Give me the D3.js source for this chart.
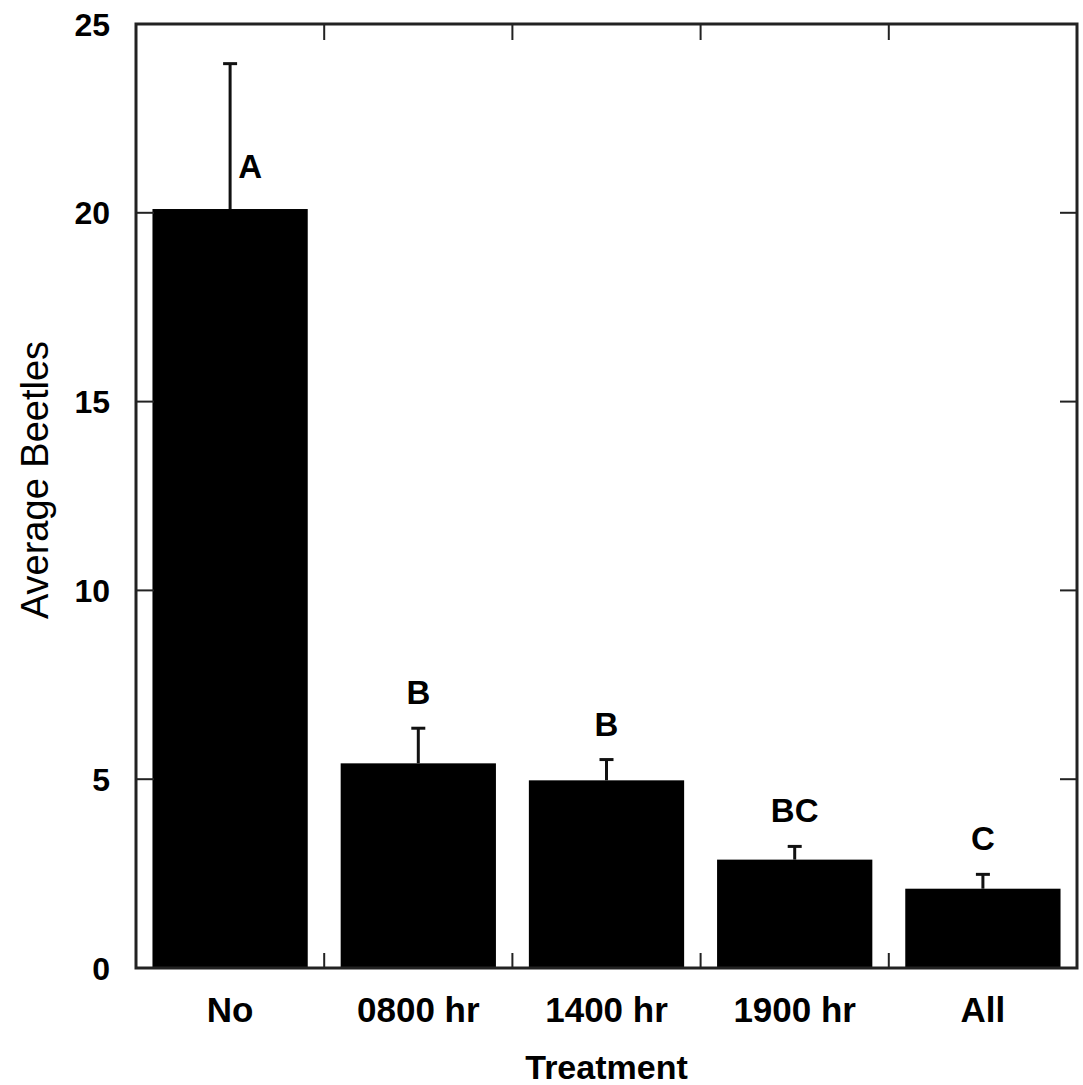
<!DOCTYPE html>
<html>
<head>
<meta charset="utf-8">
<script src="https://cdn.jsdelivr.net/npm/d3@7"></script>
<style>
    body { margin: 0; background: #fff; }
    text { font-family: "Liberation Sans", Arial, sans-serif; }
</style>
</head>
<body>
<div id="chart"></div>
<script>
// Chart data
const treatments = ["No", "0800 hr", "1400 hr", "1900 hr", "All"];
const meanBeetles = [20.1, 5.42, 4.97, 2.87, 2.1];
const errBeetles = [3.85, 0.93, 0.55, 0.35, 0.38];
const groupLetters = ["A", "B", "B", "BC", "C"];
const yTicks = [0, 5, 10, 15, 20, 25];

const margin = { top: 24, right: 6, bottom: 117, left: 136 },
    width = 1083 - margin.left - margin.right,
    height = 1085 - margin.top - margin.bottom;

const svg = d3.select("#chart")
    .append("svg")
    .attr("width", width + margin.left + margin.right)
    .attr("height", height + margin.top + margin.bottom)
    .append("g")
    .attr("transform", "translate(" + margin.left + "," + margin.top + ")");

const data = treatments.map((t, i) => ({ t, v: meanBeetles[i], e: errBeetles[i], g: groupLetters[i] }));

const x = d3.scaleBand()
    .domain(treatments)
    .range([0, width])
    .paddingInner(0.175)
    .paddingOuter(0.0875);

const y = d3.scaleLinear()
    .domain([0, 25])
    .range([height, 0]);

// category boundaries (for the small ticks on top/bottom)
const step = x.step();
const bounds = treatments.slice(1).map(t => x(t) - step * x.paddingInner() / 2);

// Bars
svg.selectAll("rect.bar")
    .data(data)
    .enter()
    .append("rect")
    .attr("class", "bar")
    .attr("x", d => x(d.t))
    .attr("y", d => y(d.v))
    .attr("width", x.bandwidth())
    .attr("height", d => height - y(d.v))
    .attr("fill", "#000");

// Error bars (upper only)
const errG = svg.append("g").attr("stroke", "#111").attr("stroke-width", 3);
errG.selectAll("line.stem")
    .data(data)
    .enter()
    .append("line")
    .attr("x1", d => x(d.t) + x.bandwidth() / 2)
    .attr("x2", d => x(d.t) + x.bandwidth() / 2)
    .attr("y1", d => y(d.v))
    .attr("y2", d => y(d.v + d.e));
errG.selectAll("line.cap")
    .data(data)
    .enter()
    .append("line")
    .attr("x1", d => x(d.t) + x.bandwidth() / 2 - 7)
    .attr("x2", d => x(d.t) + x.bandwidth() / 2 + 7)
    .attr("y1", d => y(d.v + d.e))
    .attr("y2", d => y(d.v + d.e));

// Significance letters
svg.selectAll("text.grp")
    .data(data)
    .enter()
    .append("text")
    .attr("class", "grp")
    .attr("x", (d, i) => x(d.t) + x.bandwidth() / 2 + (i === 0 ? 20 : 0))
    .attr("y", (d, i) => i === 0 ? y(d.v) - 31 : y(d.v + d.e) - 24)
    .attr("text-anchor", "middle")
    .attr("font-size", 33)
    .attr("font-weight", "bold")
    .text(d => d.g);

// Frame
const frame = svg.append("g").attr("stroke", "#222").attr("fill", "none");
frame.append("rect")
    .attr("x", 0).attr("y", 0)
    .attr("width", width).attr("height", height)
    .attr("stroke-width", 3);

// Y ticks inward on both sides
frame.selectAll("line.yl")
    .data(yTicks.slice(1, -1))
    .enter()
    .append("line")
    .attr("x1", 0).attr("x2", 18)
    .attr("y1", d => y(d)).attr("y2", d => y(d))
    .attr("stroke-width", 2);
frame.selectAll("line.yr")
    .data(yTicks.slice(1, -1))
    .enter()
    .append("line")
    .attr("x1", width - 17).attr("x2", width)
    .attr("y1", d => y(d)).attr("y2", d => y(d))
    .attr("stroke-width", 2);

// X boundary ticks inward top and bottom
frame.selectAll("line.xt")
    .data(bounds)
    .enter()
    .append("line")
    .attr("x1", d => d).attr("x2", d => d)
    .attr("y1", 0).attr("y2", 16)
    .attr("stroke-width", 2);
frame.selectAll("line.xb")
    .data(bounds)
    .enter()
    .append("line")
    .attr("x1", d => d).attr("x2", d => d)
    .attr("y1", height - 15).attr("y2", height)
    .attr("stroke-width", 2);

// Y tick labels
svg.selectAll("text.ylab")
    .data(yTicks)
    .enter()
    .append("text")
    .attr("x", -26)
    .attr("y", d => y(d))
    .attr("dy", "0.36em")
    .attr("text-anchor", "end")
    .attr("font-size", 32)
    .attr("font-weight", "bold")
    .text(d => d);

// X tick labels
svg.selectAll("text.xlab")
    .data(treatments)
    .enter()
    .append("text")
    .attr("x", d => x(d) + x.bandwidth() / 2)
    .attr("y", height + 54)
    .attr("text-anchor", "middle")
    .attr("font-size", 35)
    .attr("font-weight", "bold")
    .text(d => d);

// Axis titles
svg.append("text")
    .attr("x", width / 2)
    .attr("y", height + 111)
    .attr("text-anchor", "middle")
    .attr("font-size", 34)
    .attr("font-weight", "bold")
    .text("Treatment");

svg.append("text")
    .attr("transform", "translate(" + (-88) + "," + (480 - margin.top) + ") rotate(-90)")
    .attr("text-anchor", "middle")
    .attr("font-size", 38)
    .text("Average Beetles");
</script>
</body>
</html>
